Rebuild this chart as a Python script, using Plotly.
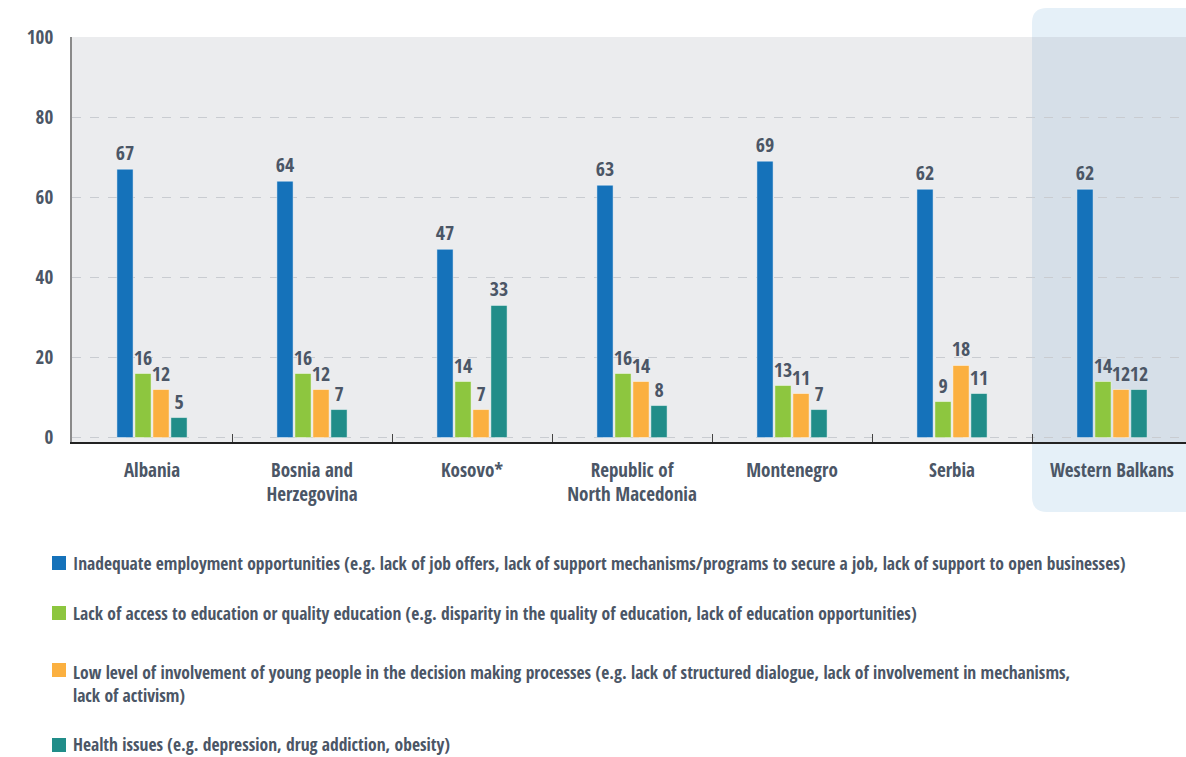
import plotly.graph_objects as go

# Survey data: share of young people (%) naming each main problem
countries = ["Albania", "Bosnia and<br>Herzegovina", "Kosovo*", "Republic of<br>North Macedonia",
             "Montenegro", "Serbia", "Western Balkans"]
employment = [67, 64, 47, 63, 69, 62, 62]
education = [16, 16, 14, 16, 13, 9, 14]
involvement = [12, 12, 7, 14, 11, 18, 12]
health = [5, 7, 33, 8, 7, 11, 12]

series_names = [
    "Inadequate employment opportunities (e.g. lack of job offers, lack of support mechanisms/programs to secure a job, lack of support to open businesses)",
    "Lack of access to education or quality education (e.g. disparity in the quality of education, lack of education opportunities)",
    "Low level of involvement of young people in the decision making processes (e.g. lack of structured dialogue, lack of involvement in mechanisms,<br>lack of activism)",
    "Health issues (e.g. depression, drug addiction, obesity)",
]
series_values = [employment, education, involvement, health]
colors = ["#1572BA", "#8DC63F", "#FBB040", "#218D89"]

y_ticks = [0, 20, 40, 60, 80, 100]

FONT = "Open Sans Condensed, Roboto Condensed, DejaVu Sans Condensed, sans-serif"
TEXT = "#4B5666"

fig = go.Figure()
for name, vals, col in zip(series_names, series_values, colors):
    fig.add_trace(go.Bar(
        x=countries, y=vals, name=name, showlegend=False,
        marker=dict(color=col, line=dict(color="rgba(255,255,255,0.45)", width=1)),
        text=[str(v) for v in vals], textposition="outside",
        textfont=dict(family=FONT, size=20, color=TEXT, weight="bold"),
        constraintext="none", cliponaxis=False,
    ))

# Plot area background and the highlighted regional-average column
shapes = [
    dict(type="path", layer="below", xref="x", yref="paper",
         path=("M 5.5,1.035 Q 5.5,1.0716 5.594,1.0716 L 6.7,1.0716 L 6.7,-0.1728 "
               "L 5.594,-0.1728 Q 5.5,-0.1728 5.5,-0.136 Z"),
         fillcolor="#E5F0F8", line=dict(width=0)),
    dict(type="rect", layer="below", xref="paper", yref="paper", x0=0, x1=1, y0=0, y1=1,
         fillcolor="#EBECEE", line=dict(width=0)),
    dict(type="rect", layer="below", xref="x", yref="paper", x0=5.5, x1=6.7, y0=0, y1=1,
         fillcolor="#D6DFE8", line=dict(width=0)),
]

# Key below the chart: colour swatch + description for each series
PLOT_LEFT, PLOT_W, PLOT_BOTTOM, PLOT_H = 72, 1114, 442, 405


def px_x(X):
    return (X - PLOT_LEFT) / PLOT_W


def px_y(Y):
    return (PLOT_BOTTOM - Y) / PLOT_H


key_rows = [563, 613, 670, 745]          # first-line centre of each key entry
key_text_centres = [563, 613, 683, 744]  # vertical centre of each entry's text block
annotations = []
for name, col, row, mid in zip(series_names, colors, key_rows, key_text_centres):
    shapes.append(dict(type="rect", xref="paper", yref="paper",
                       x0=px_x(52), x1=px_x(66), y0=px_y(row + 7), y1=px_y(row - 7),
                       fillcolor=col, line=dict(width=0)))
    annotations.append(dict(text=name, xref="paper", yref="paper", x=px_x(71), y=px_y(mid),
                            xanchor="left", yanchor="middle", align="left", showarrow=False,
                            font=dict(family=FONT, size=17.5, color=TEXT, weight="bold")))

fig.update_layout(
    width=1186, height=757,
    margin=dict(l=72, r=0, t=37, b=315),
    paper_bgcolor="white", plot_bgcolor="rgba(0,0,0,0)",
    barmode="group", bargap=0.55, bargroupgap=0.1,
    font=dict(family=FONT, color=TEXT),
    shapes=shapes, annotations=annotations, showlegend=False,
    xaxis=dict(
        range=[-0.5, 6.4625], showgrid=False,
        showline=True, linecolor="#222222", linewidth=1.5,
        ticks="inside", tickson="boundaries", ticklen=8, tickcolor="#444444", tickwidth=1,
        tickfont=dict(family=FONT, size=19, color=TEXT, weight="bold"),
        ticklabelstandoff=10,
    ),
    yaxis=dict(
        range=[-1.1, 100], tickvals=y_ticks, ticktext=[str(t) for t in y_ticks],
        showgrid=True, gridcolor="#C9CCD1", griddash="dash", gridwidth=1,
        zeroline=False, showline=True, linecolor="#8A8A8A", linewidth=2,
        tickfont=dict(family=FONT, size=19, color=TEXT, weight="bold"),
        ticklabelstandoff=13,
    ),
)

fig.write_html("out.html")
